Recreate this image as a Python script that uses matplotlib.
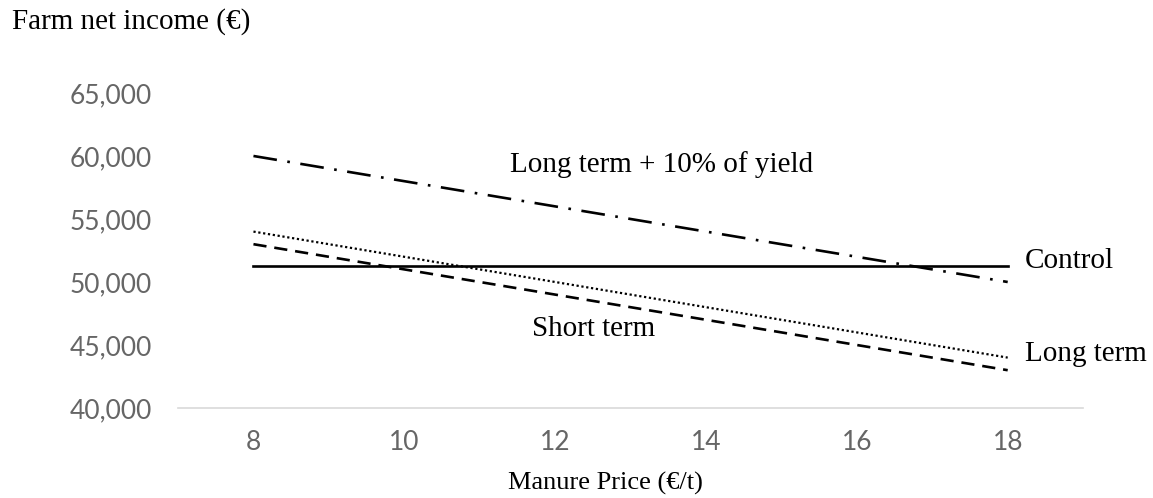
import matplotlib.pyplot as plt
from matplotlib.ticker import FuncFormatter

# data
price = [8, 18]
control = [51300, 51300]
long_term = [54000, 44000]
short_term = [53000, 43000]
long_term_10 = [60000, 50000]
xticks = [8, 10, 12, 14, 16, 18]
yticks = [40000, 45000, 50000, 55000, 60000, 65000]

serif = "Liberation Serif"
gray = "#666666"

fig = plt.figure(figsize=(11.53, 4.98), dpi=100)
ax = fig.add_axes([0.1544, 0.1807, 0.785, 0.6326])

ax.plot(price, long_term_10, color="black", lw=1.9, dashes=(9, 4, 1, 4))
ax.plot(price, long_term, color="black", lw=1.6, linestyle=(0, (1, 1.2)))
ax.plot(price, short_term, color="black", lw=1.9, dashes=(5, 3))
ax.plot(price, control, color="black", lw=1.9)

ax.set_xlim(7, 19)
ax.set_ylim(40000, 65000)
ax.set_xticks(xticks)
ax.set_yticks(yticks)
ax.yaxis.set_major_formatter(FuncFormatter(lambda v, p: f"{v:,.0f}"))
ax.tick_params(length=0, labelsize=19, labelcolor=gray)
ax.tick_params(axis="x", pad=16)
ax.tick_params(axis="y", pad=19)
for lab in ax.get_xticklabels() + ax.get_yticklabels():
    lab.set_family("Lato")

for s in ["top", "right", "left"]:
    ax.spines[s].set_visible(False)
ax.spines["bottom"].set_color("#d9d9d9")
ax.spines["bottom"].set_linewidth(1.2)

# line labels
ax.text(11.40, 59300, "Long term + 10% of yield", family=serif, fontsize=21, va="center")
ax.text(18.23, 51700, "Control", family=serif, fontsize=21, va="center")
ax.text(18.23, 44250, "Long term", family=serif, fontsize=21, va="center")
ax.text(11.69, 46250, "Short term", family=serif, fontsize=21, va="center")

fig.text(0.010, 0.956, "Farm net income (\u20ac)", family=serif, fontsize=21, va="center")
fig.text(0.525, 0.030, "Manure Price (\u20ac/t)", family=serif, fontsize=19, ha="center", va="center")

fig.savefig("out.png", dpi=100)
